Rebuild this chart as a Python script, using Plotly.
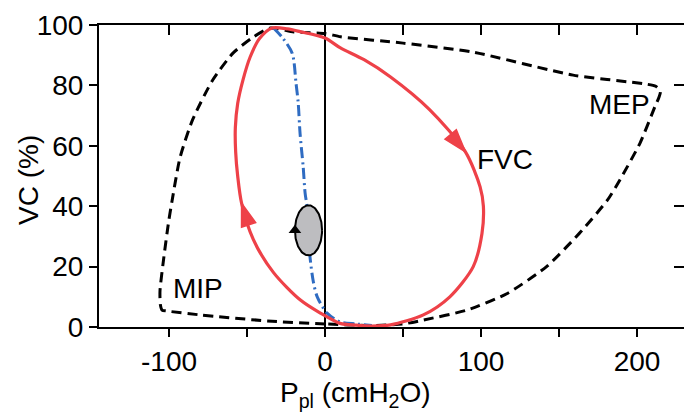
import numpy as np
import plotly.graph_objects as go

# ---------------- data ----------------
# Maximal pressure envelope (MIP / MEP), black dashed
env_x = [30, 0, -37, -80, -101.5, -104.5, -105.6, -105.8, -103.6, -100.4, -98, -93, -85, -72, -59,
         -46, -35, -20, 0, 10, 50, 95, 159, 205, 212, 215, 214, 211.5, 202, 189, 181, 163, 142,
         116.5, 91, 63, 50, 30]
env_y = [0.5, 1, 2, 4, 5.3, 5.6, 7.5, 12, 22, 34.4, 42, 56, 68.5, 81.8, 90.7,
         96, 99, 97.7, 97.2, 96.1, 94, 91, 83.4, 80.5, 79.7, 78, 76, 73, 61, 48.7, 42, 31, 20,
         11, 5.6, 2.3, 1, 0.5]

# Forced vital capacity loop, red
fvc_x = [30, 20, 9.6, -3, -16, -33, -46, -53.5, -56, -57.3, -57.5, -56, -52.5, -48, -42, -34, -24, -16,
         0, 9.6, 25, 42, 67, 90, 99.4, 101.5, 100.6, 95, 80, 63, 42, 30]
fvc_y = [0.3, 0.6, 1.2, 4.6, 9, 18, 29, 41, 50, 58, 66, 74, 82, 89.4, 95.5, 99, 98.7, 97.8,
         95.7, 92.5, 88.5, 82.8, 72, 58, 46.4, 40, 31, 20, 10, 4, 0.7, 0.3]
fvc_arrow_idx = [7, 23]

# Relaxation / static curve, blue dash-dot
rel_x = [-33, -27, -21, -18.6, -17.2, -16, -14, -12.8, -11.5, -10.6, -9.6, -7.5, -5, 1.3, 9.6, 20, 30]
rel_y = [99, 95.6, 90.6, 80.7, 74.2, 64, 53, 44.4, 39.7, 32, 23, 15, 10, 4.6, 1.7, 1.0, 0.5]

# Tidal breathing loop (grey ellipse): centre and half-widths
tidal_center = (-10.6, 32.0)
tidal_radii = (8.7, 8.3)

x_ticks = [-100, 0, 100, 200]
x_ticktext = ['-100', '0', '100', '200']
x_minor_step = 50
y_ticks = [0, 20, 40, 60, 80, 100]
y_right_ticks = [20, 40, 60, 80]
x_range = [-144.9, 230.1]
y_range = [0, 100]

labels = [("MEP", 188.5, 73.8), ("FVC", 115.4, 55.6), ("MIP", -81.2, 12.6)]

RED = "#EE4148"
BLUE = "#2F6CC2"
FONT = "Liberation Sans, Arial, Helvetica, sans-serif"
FS = 28

fig = go.Figure()

fig.add_trace(go.Scatter(x=env_x, y=env_y, mode="lines", line=dict(color="black", width=3, dash="10px,6px", shape="spline", smoothing=0.6), hoverinfo="skip", showlegend=False))
fig.add_trace(go.Scatter(x=rel_x, y=rel_y, mode="lines", line=dict(color=BLUE, width=3, dash="11px,4px,2px,4px", shape="spline", smoothing=0.8), hoverinfo="skip", showlegend=False))
fig.add_trace(go.Scatter(x=fvc_x, y=fvc_y, mode="lines", line=dict(color=RED, width=3.2, shape="spline", smoothing=0.8), hoverinfo="skip", showlegend=False))
for i in fvc_arrow_idx:
    fig.add_trace(go.Scatter(x=[fvc_x[i - 1], fvc_x[i]], y=[fvc_y[i - 1], fvc_y[i]], mode="markers",
                             marker=dict(symbol="arrow", size=[0, 24], angleref="previous", color=RED, opacity=1,
                                         line=dict(width=1.5, color=RED)),
                             hoverinfo="skip", showlegend=False))

# ellipse outline from centre and radii
t = np.linspace(0, 2 * np.pi, 121)
ex = tidal_center[0] + tidal_radii[0] * np.cos(t)
ey = tidal_center[1] + tidal_radii[1] * np.sin(t)
fig.add_trace(go.Scatter(x=ex, y=ey, mode="lines", fill="toself", fillcolor="#BDBDC0", line=dict(color="black", width=2), hoverinfo="skip", showlegend=False))
fig.add_trace(go.Scatter(x=[tidal_center[0] - tidal_radii[0]], y=[tidal_center[1]], mode="markers",
                         marker=dict(symbol="triangle-up", size=11, color="black"), hoverinfo="skip", showlegend=False))

# empty trace to register the mirrored axes
fig.add_trace(go.Scatter(x=[], y=[], xaxis="x2", yaxis="y2", showlegend=False, hoverinfo="skip"))

for txt, x, y in labels:
    fig.add_annotation(x=x, y=y, text=txt, showarrow=False, font=dict(family=FONT, size=FS, color="black"), xanchor="center", yanchor="middle")

fig.add_annotation(xref="paper", yref="paper", x=(355 - 99) / 585, y=-0.225, text="P<sub>pl</sub> (cmH<sub>2</sub>O)",
                   showarrow=False, font=dict(family=FONT, size=FS, color="black"), xanchor="center", yanchor="middle")
fig.add_annotation(xref="paper", yref="paper", x=(29 - 99) / 585, y=0.487, text="VC (%)", textangle=-90,
                   showarrow=False, font=dict(family=FONT, size=FS, color="black"), xanchor="center", yanchor="middle")

axis_common = dict(showgrid=False, linecolor="black", tickcolor="black", tickwidth=2, linewidth=2)
fig.update_layout(
    width=684, height=416, autosize=False,
    margin=dict(l=99, r=0, t=25, b=89, pad=0),
    paper_bgcolor="white", plot_bgcolor="white",
    font=dict(family=FONT, size=FS, color="black"),
    xaxis=dict(range=x_range, tickvals=x_ticks, ticktext=x_ticktext, ticks="outside", ticklen=8, showline=True,
               minor=dict(dtick=x_minor_step, tick0=0, ticks="outside", ticklen=8, tickwidth=2, tickcolor="black", showgrid=False),
               zeroline=True, zerolinecolor="black", zerolinewidth=1.5, tickfont=dict(size=FS), **axis_common),
    yaxis=dict(range=y_range, tickvals=y_ticks, ticks="outside", ticklen=8, showline=True, zeroline=False,
               tickfont=dict(size=FS), **axis_common),
    xaxis2=dict(overlaying="x", side="top", anchor="y2", range=x_range, dtick=x_minor_step, tick0=0, ticks="inside", ticklen=10,
                showticklabels=False, showline=True, zeroline=False, **axis_common),
    yaxis2=dict(overlaying="y", side="right", anchor="x2", range=y_range, tickvals=y_right_ticks, ticks="inside", ticklen=10,
                showticklabels=False, showline=False, zeroline=False, **axis_common),
)

fig.write_html("out.html")
